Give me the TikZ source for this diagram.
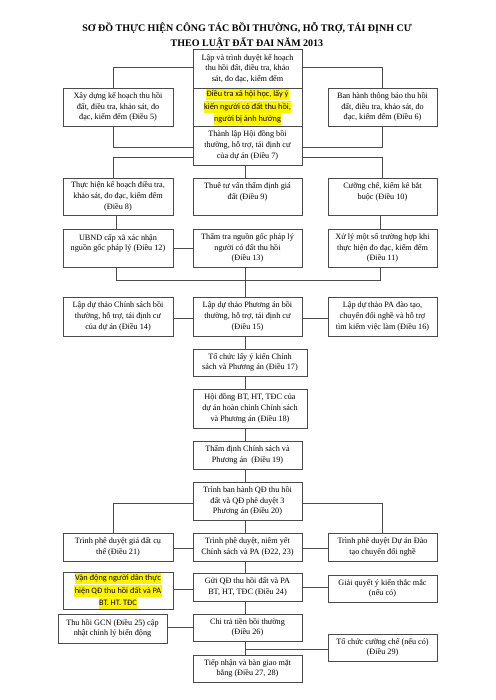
\documentclass[tikz,border=0pt]{standalone}
\usepackage{fontspec}
\setmainfont{Liberation Serif}
\newfontfamily\hlfont{Carlito}
\usetikzlibrary{calc}
\definecolor{hly}{RGB}{255,242,0}
\definecolor{ln}{RGB}{75,75,75}
\newcommand{\hlt}[1]{{\setlength{\fboxsep}{0.4pt}\colorbox{hly}{\strut #1}}}
\tikzset{
  box/.style={draw=ln,line width=0.85pt,fill=white,inner sep=0pt,align=center,
    font=\fontsize{8.2}{10.6}\selectfont,minimum width=109pt},
  hlbox/.style={box,font=\hlfont\fontsize{8.3}{10.6}\selectfont},
  conn/.style={draw=ln,line width=0.85pt},
  ttl/.style={font=\bfseries\fontsize{10}{11}\selectfont,inner sep=0pt}
}
\begin{document}
\begin{tikzpicture}[x=1pt,y=-1pt]
\useasboundingbox (0,0) rectangle (495,700);
\fill[white] (0,0) rectangle (495,700);

\node[ttl] (t1) at (247,28) {SƠ ĐỒ THỰC HIỆN CÔNG TÁC BỒI THƯỜNG, HỖ TRỢ, TÁI ĐỊNH CƯ};
\node[ttl] (t2) at (247,43) {THEO LUẬT ĐẤT ĐAI NĂM 2013};

% row 1
\node[box,minimum height=39pt] (A) at (247.5,68.5) {Lập và trình duyệt kế hoạch\\thu hồi đất, điều tra, khảo\\sát, đo đạc, kiểm đếm};
\node[hlbox,minimum height=38pt] (B) at (247.5,107) {\hlt{Điều tra xã hội học, lấy ý}\\\hlt{kiến người có đất thu hồi,}\\\hlt{người bị ảnh hưởng}};
\node[box,minimum height=39pt] (C) at (247.5,145.5) {Thành lập Hội đồng bồi\\thường, hỗ trợ, tái định cư\\của dự án (Điều 7)};
\node[box,minimum width=110pt,minimum height=38pt] (L1) at (118,107) {Xây dựng kế hoạch thu hồi\\đất, điều tra, khảo sát, đo\\đạc, kiểm đếm (Điều 5)};
\node[box,minimum height=38pt] (R1) at (382.5,107) {Ban hành thông báo thu hồi\\đất, điều tra, khảo sát, đo\\đạc, kiểm đếm (Điều 6)};

% row 2
\node[box,minimum width=110pt,minimum height=37pt] (L2) at (118,196.5) {Thực hiện kế hoạch điều tra,\\khảo sát, đo đạc, kiểm đếm\\(Điều 8)};
\node[box,minimum height=37pt] (C2) at (247.5,196.5) {Thuê tư vấn thẩm định giá\\đất (Điều 9)\\~};
\node[box,minimum height=37pt] (R2) at (382.5,196.5) {Cưỡng chế, kiểm kê bắt\\buộc (Điều 10)\\~};

% row 3
\node[box,minimum width=110pt,minimum height=38pt] (L3) at (118,248) {UBND cấp xã xác nhận\\nguồn gốc pháp lý (Điều 12)\\~};
\node[box,minimum height=38pt] (C3) at (247.5,248) {Thẩm tra nguồn gốc pháp lý\\người có đất thu hồi\\(Điều 13)};
\node[box,minimum height=38pt] (R3) at (382.5,248) {Xử lý một số trường hợp khi\\thực hiện đo đạc, kiểm đếm\\(Điều 11)};

% row 4
\node[box,minimum width=110pt,minimum height=39pt] (L4) at (118,316.5) {Lập dự thảo Chính sách bồi\\thường, hỗ trợ, tái định cư\\của dự án (Điều 14)};
\node[box,minimum height=39pt] (C4) at (247.5,316.5) {Lập dự thảo Phương án bồi\\thường, hỗ trợ, tái định cư\\(Điều 15)};
\node[box,minimum height=39pt] (R4) at (382.5,316.5) {Lập dự thảo PA đào tạo,\\chuyển đổi nghề và hỗ trợ\\tìm kiếm việc làm (Điều 16)};

% center column
\node[box,minimum width=114pt,minimum height=27pt] (C5) at (250,362.5) {Tổ chức lấy ý kiến Chính\\sách và Phương án (Điều 17)};
\node[box,minimum width=114pt,minimum height=39pt] (C6) at (250,408.5) {Hội đồng BT, HT, TĐC của\\dự án hoàn chỉnh Chính sách\\và Phương án (Điều 18)};
\node[box,minimum height=28pt] (C7) at (247.5,455) {Thẩm định Chính sách và\\Phương án~ (Điều 19)};
\node[box,minimum height=38pt] (C8) at (247.5,501) {Trình ban hành QĐ thu hồi\\đất và QĐ phê duyệt 3\\Phương án (Điều 20)};

% row 9
\node[box,minimum width=110pt,minimum height=28pt] (L9) at (118,547) {Trình phê duyệt giá đất cụ\\thể (Điều 21)};
\node[box,minimum height=28pt] (C9) at (247.5,547) {Trình phê duyệt, niêm yết\\Chính sách và PA (Đ22, 23)};
\node[box,minimum height=28pt] (R9) at (382.5,547) {Trình phê duyệt Dự án Đào\\tạo chuyển đổi nghề};

% row 10
\node[hlbox,minimum width=110pt,minimum height=36pt] (L10) at (118,591) {\hlt{Vận động người dân thực}\\\hlt{hiện QĐ thu hồi đất và PA}\\\hlt{BT. HT. TĐC}};
\node[box,minimum height=28pt] (C10) at (247.5,587) {Gửi QĐ thu hồi đất và PA\\BT, HT, TĐC (Điều 24)};
\node[box,minimum height=27pt] (R10) at (382.5,588.5) {Giải quyết ý kiến thắc mắc\\(nếu có)};

% row 11
\node[box,minimum height=29pt] (L11) at (112.5,628.5) {Thu hồi GCN (Điều 25) cập\\nhật chỉnh lý biến động};
\node[box,minimum height=27pt] (C11) at (247.5,627.5) {Chi trả tiền bồi thường\\(Điều 26)};
\node[box,minimum height=27pt] (R11) at (382.5,647.5) {Tổ chức cưỡng chế (nếu có)\\(Điều 29)};
\node[box,minimum height=27pt] (C12) at (247.5,668.5) {Tiếp nhận và bàn giao mặt\\bằng (Điều 27, 28)};

% connectors
\draw[conn] ([yshift=1.5pt]A.west) -| ([xshift=-5pt]L1.north);
\draw[conn] ([yshift=1.5pt]A.east) -| (R1.north);
\draw[conn] ([xshift=-5pt]L1.south) |- ([yshift=-1.5pt]C.west);
\draw[conn] (R1.south) |- ([yshift=-1.5pt]C.east);
\draw[conn] ([yshift=-11.5pt]C.west) -| ([xshift=-5pt]L2.north);
\draw[conn] ([yshift=-11.5pt]C.east) -| (R2.north);
\draw[conn] ([xshift=-2.5pt]C.south) -- ([xshift=-2.5pt]C2.north);
\draw[conn] ([xshift=-2pt]L2.south) -- ([xshift=-2pt]L3.north);
\draw[conn] ([xshift=-2.5pt]R2.south) -- ([xshift=-2.5pt]R3.north);
\draw[conn] (L3.east) -- (C3.west);
\draw[conn] ([xshift=-2pt]L3.south) -- ++(0,13) -| ([xshift=-2.5pt]R3.south);
\draw[conn] ([xshift=-2.5pt]C3.south) -- ([xshift=-2.5pt]C4.north);
\draw[conn] ([yshift=-1.5pt]L4.east) -- ([yshift=-1.5pt]C4.west);
\draw[conn] ([yshift=-1.5pt]C4.east) -- ([yshift=-1.5pt]R4.west);
\draw[conn] ([xshift=-2.5pt]C4.south) -- ([xshift=-2.5pt]C4.south |- C5.north);
\draw[conn] ([xshift=-2.5pt]C4.south |- C5.south) -- ([xshift=-2.5pt]C4.south |- C6.north);
\draw[conn] ([xshift=-2.5pt]C7.north |- C6.south) -- ([xshift=-2.5pt]C7.north);
\draw[conn] ([xshift=-2.5pt]C7.south) -- ([xshift=-2.5pt]C8.north);
\draw[conn] ([yshift=-2pt]C8.west) -| ([xshift=-5pt]L9.north);
\draw[conn] ([yshift=-2pt]C8.east) -| (R9.north);
\draw[conn] ([xshift=-2.5pt]C8.south) -- ([xshift=-2.5pt]C9.north);
\draw[conn] ([yshift=-1pt]L9.east) -- ([yshift=-1pt]C9.west);
\draw[conn] ([yshift=-1pt]C9.east) -- ([yshift=-1pt]R9.west);
\draw[conn] ([xshift=-2.5pt]C9.south) -- ([xshift=-2.5pt]C10.north);
\draw[conn] ([yshift=-2pt]C10.west) -- ([yshift=-2pt]C10.west -| L10.east);
\draw[conn] (C10.east) -- (C10.east -| R10.west);
\draw[conn] ([xshift=-2.5pt]C10.south) -- ([xshift=-2.5pt]C11.north);
\draw[conn] (C11.west -| L11.east) -- (C11.west);
\draw[conn] ([xshift=-2.5pt]C11.south) -- ([xshift=-2.5pt]C12.north);
\draw[conn] ([xshift=-2.5pt,yshift=-1.5pt]C11.south |- R11.west) -- ([yshift=-1.5pt]R11.west);
\end{tikzpicture}
\end{document}
